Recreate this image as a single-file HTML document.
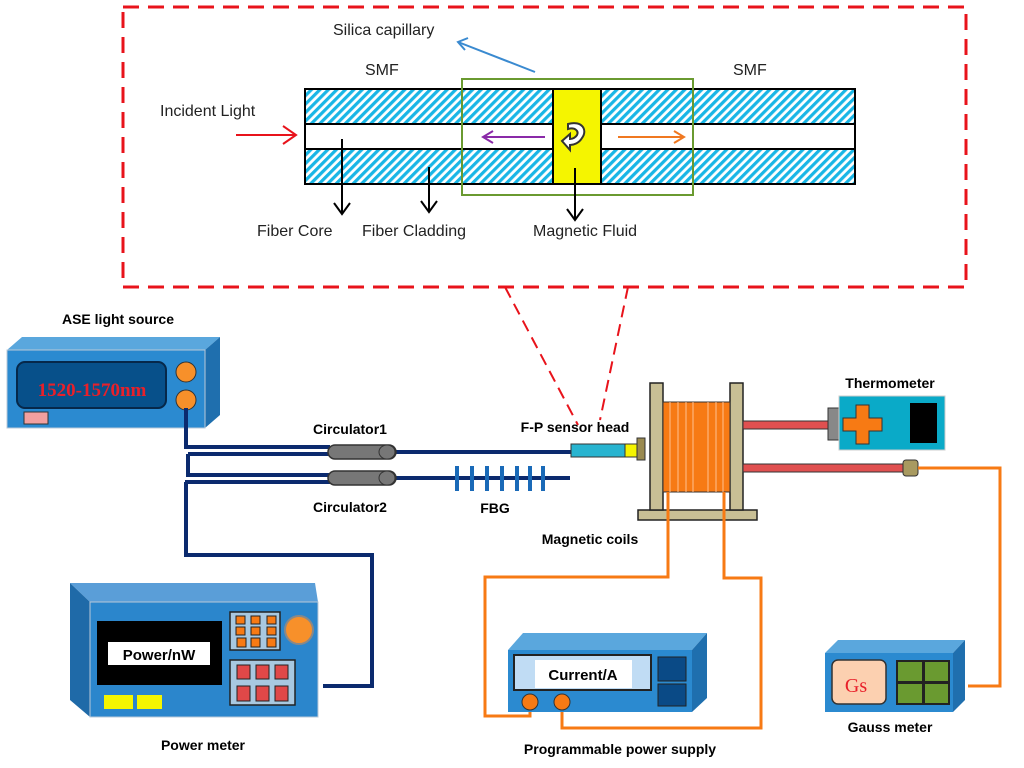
<!DOCTYPE html>
<html><head><meta charset="utf-8"><style>
html,body{margin:0;padding:0;background:#fff}
svg{display:block}
text{font-family:"Liberation Sans",sans-serif}
.b{font-weight:bold;font-size:14px}
.n{font-size:16px;fill:#222}
</style></head><body>
<svg width="1024" height="768" viewBox="0 0 1024 768">
<defs>
<pattern id="h" width="6" height="6" patternUnits="userSpaceOnUse" patternTransform="rotate(45)">
<rect width="6" height="6" fill="#fff"/><rect width="3.2" height="6" fill="#19b6e6"/>
</pattern>
</defs>
<!-- inset -->
<rect x="123" y="7" width="843" height="280" fill="none" stroke="#e8131b" stroke-width="3" stroke-dasharray="16,9"/>
<line x1="505" y1="287" x2="578" y2="425" stroke="#e8131b" stroke-width="2" stroke-dasharray="12,7"/>
<line x1="628" y1="287" x2="600" y2="420" stroke="#e8131b" stroke-width="2" stroke-dasharray="12,7"/>
<rect x="305" y="89" width="550" height="35" fill="url(#h)" stroke="#000" stroke-width="2"/>
<rect x="305" y="124" width="550" height="25" fill="#fff" stroke="#000" stroke-width="2"/>
<rect x="305" y="149" width="550" height="35" fill="url(#h)" stroke="#000" stroke-width="2"/>
<rect x="553" y="89" width="48" height="95" fill="#f5f500" stroke="#000" stroke-width="2"/>
<rect x="462" y="79" width="231" height="116" fill="none" stroke="#6a9a30" stroke-width="2"/>
<path d="M568 124 c14 -4 20 6 14 14 c-3 5 -8 7 -12 7 l0 5 l-8 -9 l8 -7 l0 5 c3 0 6 -2 7 -4 c2 -4 -2 -8 -9 -6 z" fill="#fff" stroke="#333" stroke-width="2"/>
<text x="333" y="35" class="n">Silica capillary</text>
<line x1="535" y1="72" x2="458" y2="42" stroke="#3a8ad0" stroke-width="2"/>
<path d="M468 38 L458 42 L465 50" stroke="#3a8ad0" stroke-width="2" fill="none"/>
<text x="365" y="75" class="n">SMF</text>
<text x="733" y="75" class="n">SMF</text>
<text x="160" y="116" class="n">Incident Light</text>
<line x1="236" y1="135" x2="296" y2="135" stroke="#e8131b" stroke-width="2"/>
<path d="M283 126 L296 135 L283 144" stroke="#e8131b" stroke-width="2" fill="none"/>
<line x1="545" y1="137" x2="483" y2="137" stroke="#8a2aa8" stroke-width="2"/>
<path d="M493 131 L483 137 L493 143" stroke="#8a2aa8" stroke-width="2" fill="none"/>
<line x1="618" y1="137" x2="684" y2="137" stroke="#f07820" stroke-width="2"/>
<path d="M674 131 L684 137 L674 143" stroke="#f07820" stroke-width="2" fill="none"/>
<g stroke="#000" stroke-width="2" fill="none">
<line x1="342" y1="139" x2="342" y2="214"/><path d="M334 203 L342 214 L350 203"/>
<line x1="429" y1="167" x2="429" y2="212"/><path d="M421 201 L429 212 L437 201"/>
<line x1="575" y1="168" x2="575" y2="220"/><path d="M567 209 L575 220 L583 209"/>
</g>
<text x="257" y="236" class="n">Fiber Core</text>
<text x="362" y="236" class="n">Fiber Cladding</text>
<text x="533" y="236" class="n">Magnetic Fluid</text>

<!-- ASE -->
<text x="118" y="324" class="b" text-anchor="middle">ASE light source</text>
<polygon points="7,350 22,337 220,337 205,350" fill="#5aa7dd"/>
<polygon points="205,350 220,337 220,415 205,428" fill="#1f6fae"/>
<rect x="7" y="350" width="198" height="78" fill="#2b8ad0" stroke="#b8c8d8"/>
<rect x="17" y="362" width="149" height="46" rx="8" fill="#07508a" stroke="#06284a" stroke-width="2"/>
<text x="92" y="396" text-anchor="middle" style="font-family:'Liberation Serif',serif;font-size:19px;font-weight:bold" fill="#e8202a">1520-1570nm</text>
<circle cx="186" cy="372" r="10" fill="#f7902a" stroke="#333"/>
<circle cx="186" cy="400" r="10" fill="#f7902a" stroke="#333"/>
<rect x="24" y="412" width="24" height="12" fill="#f2a0a0" stroke="#333"/>

<!-- fibers -->
<g stroke="#0b2a6e" stroke-width="4" fill="none">
<polyline points="186,408 186,447 330,447"/>
<polyline points="188,454 330,454"/>
<polyline points="188,454 188,475 330,475"/>
<polyline points="185,482 330,482"/>
<polyline points="186,482 186,555 372,555 372,686 323,686"/>
<line x1="395" y1="452" x2="572" y2="452"/>
<line x1="395" y1="478" x2="570" y2="478"/>
</g>
<rect x="328" y="445" width="68" height="14" rx="7" fill="#777" stroke="#333" stroke-width="1.5"/>
<ellipse cx="387" cy="452" rx="8" ry="7" fill="#777" stroke="#333"/>
<rect x="328" y="471" width="68" height="14" rx="7" fill="#777" stroke="#333" stroke-width="1.5"/>
<ellipse cx="387" cy="478" rx="8" ry="7" fill="#777" stroke="#333"/>
<g stroke="#1a6ab8" stroke-width="4">
<line x1="457" y1="466" x2="457" y2="491"/><line x1="472" y1="466" x2="472" y2="491"/><line x1="487" y1="466" x2="487" y2="491"/><line x1="502" y1="466" x2="502" y2="491"/><line x1="517" y1="466" x2="517" y2="491"/><line x1="530" y1="466" x2="530" y2="491"/><line x1="543" y1="466" x2="543" y2="491"/>
</g>
<text x="350" y="434" class="b" text-anchor="middle">Circulator1</text>
<text x="350" y="512" class="b" text-anchor="middle">Circulator2</text>
<text x="495" y="513" class="b" text-anchor="middle">FBG</text>
<text x="575" y="432" class="b" text-anchor="middle">F-P sensor head</text>
<rect x="571" y="444" width="54" height="13" fill="#28b4d0" stroke="#333"/>
<rect x="625" y="444" width="12" height="13" fill="#f5f500" stroke="#333"/>
<rect x="637" y="438" width="8" height="22" fill="#9a8a50" stroke="#333"/>

<!-- coils -->
<rect x="638" y="510" width="119" height="10" fill="#c8bf95" stroke="#222" stroke-width="1.5"/>
<rect x="650" y="383" width="13" height="127" fill="#c8bf95" stroke="#222" stroke-width="1.5"/>
<rect x="730" y="383" width="13" height="127" fill="#c8bf95" stroke="#222" stroke-width="1.5"/>
<rect x="663" y="402" width="67" height="90" fill="#f77a14" stroke="#333"/>
<g stroke="#ffc090" stroke-width="1">
<line x1="670" y1="402" x2="670" y2="492"/><line x1="678" y1="402" x2="678" y2="492"/><line x1="686" y1="402" x2="686" y2="492"/><line x1="693" y1="402" x2="693" y2="492"/><line x1="708" y1="402" x2="708" y2="492"/><line x1="716" y1="402" x2="716" y2="492"/><line x1="723" y1="402" x2="723" y2="492"/>
</g>
<text x="590" y="544" class="b" text-anchor="middle">Magnetic coils</text>
<rect x="743" y="421" width="85" height="8" fill="#e05050" stroke="#333"/>
<rect x="743" y="464" width="160" height="8" fill="#e05050" stroke="#333"/>
<rect x="828" y="408" width="11" height="32" fill="#888" stroke="#333"/>
<rect x="903" y="460" width="15" height="16" rx="3" fill="#a89a60" stroke="#333"/>
<text x="890" y="388" class="b" text-anchor="middle">Thermometer</text>
<rect x="839" y="396" width="106" height="54" fill="#0aaac8" stroke="#ccc"/>
<path d="M856 405 h13 v13 h13 v13 h-13 v13 h-13 v-13 h-13 v-13 h13z" fill="#f77a14" stroke="#333"/>
<rect x="910" y="403" width="27" height="40" fill="#000"/>

<!-- orange wires -->
<g stroke="#f77a14" stroke-width="3" fill="none">
<polyline points="918,468 1000,468 1000,686 968,686"/>
<polyline points="668,492 668,577 485,577 485,716 530,716 530,706"/>
<polyline points="724,492 724,578 761,578 761,728 562,728 562,706"/>
</g>

<!-- power meter -->
<polygon points="70,583 90,602 318,602 315,583" fill="#5a9ed8"/>
<polygon points="70,583 90,602 90,717 70,700" fill="#1f6aa8"/>
<rect x="90" y="602" width="228" height="115" fill="#2b86cc" stroke="#b8c8d8"/>
<rect x="97" y="621" width="125" height="64" fill="#000"/>
<rect x="108" y="642" width="102" height="23" fill="#fff"/>
<text x="159" y="660" text-anchor="middle" font-size="15" font-weight="bold">Power/nW</text>
<rect x="104" y="695" width="29" height="14" fill="#f5f500"/>
<rect x="137" y="695" width="25" height="14" fill="#f5f500"/>
<rect x="230" y="612" width="50" height="38" fill="#a8c8e0" stroke="#222" stroke-width="1.5"/>
<g fill="#f77a14" stroke="#222">
<rect x="236" y="616" width="9" height="8"/><rect x="236" y="627" width="9" height="8"/><rect x="237" y="638" width="9" height="9"/>
<rect x="251" y="616" width="9" height="8"/><rect x="251" y="627" width="9" height="8"/><rect x="251" y="638" width="9" height="9"/>
<rect x="267" y="616" width="9" height="8"/><rect x="267" y="627" width="9" height="8"/><rect x="267" y="638" width="9" height="9"/>
</g>
<rect x="230" y="660" width="65" height="45" fill="#a8c8e0" stroke="#222" stroke-width="1.5"/>
<g fill="#e04848" stroke="#222">
<rect x="237" y="665" width="13" height="14"/><rect x="256" y="665" width="13" height="14"/><rect x="275" y="665" width="13" height="14"/>
<rect x="237" y="686" width="13" height="15"/><rect x="256" y="686" width="13" height="15"/><rect x="275" y="686" width="13" height="15"/>
</g>
<circle cx="299" cy="630" r="14" fill="#f7902a" stroke="#888" stroke-width="2"/>
<text x="203" y="750" class="b" text-anchor="middle">Power meter</text>

<!-- power supply -->
<polygon points="508,650 523,633 707,633 692,650" fill="#5aa7dd"/>
<polygon points="692,650 707,633 707,698 692,712" fill="#1f6fae"/>
<rect x="508" y="650" width="184" height="62" fill="#2b8ad0"/>
<rect x="514" y="655" width="137" height="35" fill="#c0dcf4" stroke="#222" stroke-width="2"/>
<rect x="535" y="660" width="97" height="28" fill="#fff"/>
<text x="583" y="680" text-anchor="middle" font-size="15" font-weight="bold">Current/A</text>
<rect x="658" y="657" width="28" height="24" fill="#0a4a86" stroke="#222"/>
<rect x="658" y="684" width="28" height="22" fill="#0a4a86" stroke="#222"/>
<circle cx="530" cy="702" r="8" fill="#f77a14" stroke="#333"/>
<circle cx="562" cy="702" r="8" fill="#f77a14" stroke="#333"/>
<text x="620" y="754" class="b" text-anchor="middle">Programmable power supply</text>

<!-- gauss meter -->
<polygon points="825,653 838,640 965,640 953,653" fill="#5aa7dd"/>
<polygon points="953,653 965,640 965,700 953,712" fill="#1f6fae"/>
<rect x="825" y="653" width="128" height="59" fill="#2b8ad0"/>
<rect x="832" y="660" width="54" height="44" rx="6" fill="#fcd0b0" stroke="#333" stroke-width="1.5"/>
<text x="856" y="692" text-anchor="middle" style="font-family:'Liberation Serif',serif;font-size:20px" fill="#e8202a">Gs</text>
<rect x="896" y="660" width="54" height="45" fill="#222"/>
<g fill="#6a9a30">
<rect x="898" y="662" width="24" height="19"/><rect x="925" y="662" width="23" height="19"/>
<rect x="898" y="684" width="24" height="19"/><rect x="925" y="684" width="23" height="19"/>
</g>
<text x="890" y="732" class="b" text-anchor="middle">Gauss meter</text>
</svg>
</body></html>
